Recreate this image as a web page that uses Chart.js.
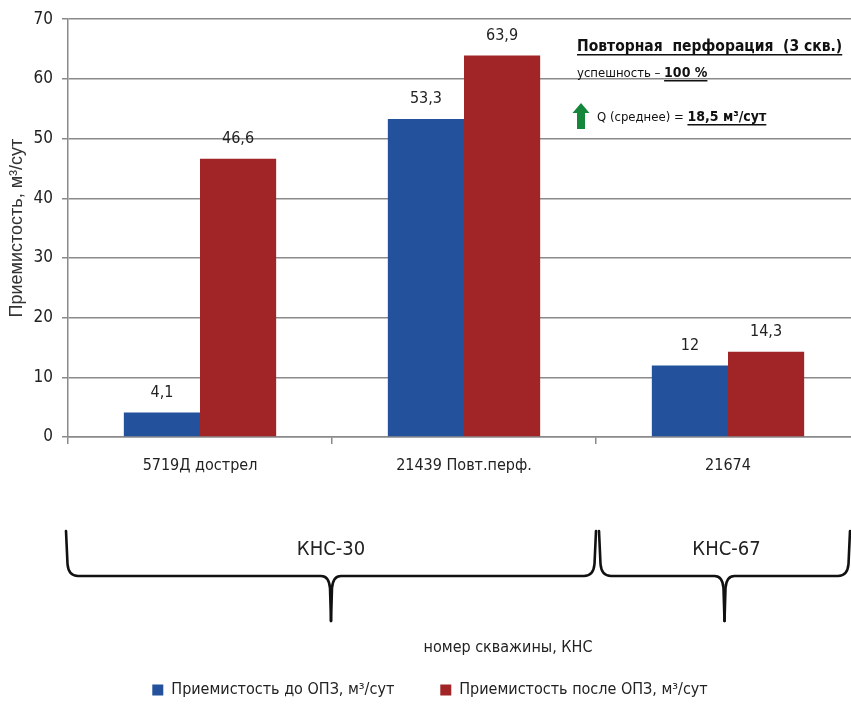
<!DOCTYPE html>
<html>
<head>
<meta charset="utf-8">
<script src="https://cdn.jsdelivr.net/npm/chart.js@4"></script>
<style>
  html, body { margin: 0; padding: 0; background: #fff; overflow: hidden; }
  #wrap { width: 860px; height: 704px; }
</style>
</head>
<body>
<div id="wrap"><canvas id="c" width="860" height="704"></canvas></div>
<script>
// Wells and injectivity before / after bottom-hole treatment (ОПЗ)
const categories = ['5719Д дострел', '21439 Повт.перф.', '21674'];
const beforeValues = [4.1, 53.3, 12];
const afterValues = [46.6, 63.9, 14.3];
const seriesNames = ['Приемистость до ОПЗ, м³/сут', 'Приемистость после ОПЗ, м³/сут'];
const yMin = 0, yMax = 70, yStep = 10;
// pumping stations (КНС) and the wells they serve (first..last category index)
const stationNames = ['КНС-30', 'КНС-67'];
const stationFirst = [0, 2];
const stationLast = [1, 2];

const NARROW = "'Liberation Sans Narrow', 'DejaVu Sans Condensed', sans-serif";
const BLUE = '#23519c';
const RED = '#a12527';
const GRID = '#8a8a8a';
const TEXT = '#222';

const fmt = v => String(v).replace('.', ',');

const valueLabels = {
  id: 'valueLabels',
  afterDatasetsDraw(chart) {
    const ctx = chart.ctx;
    ctx.save();
    ctx.font = '16px ' + NARROW;
    ctx.fillStyle = TEXT;
    ctx.textAlign = 'center';
    ctx.textBaseline = 'middle';
    chart.data.datasets.forEach((ds, i) => {
      chart.getDatasetMeta(i).data.forEach((bar, j) => {
        ctx.fillText(fmt(ds.data[j]), bar.x, bar.y - 20);
      });
    });
    ctx.restore();
  }
};

function drawBrace(ctx, x0, x1, yTop, yLine, yTip) {
  const mid = (x0 + x1) / 2;
  ctx.beginPath();
  ctx.moveTo(x0, yTop);
  ctx.lineTo(x0 + 1.5, yLine - 12);
  ctx.quadraticCurveTo(x0 + 2.5, yLine, x0 + 12, yLine);
  ctx.lineTo(mid - 10, yLine);
  ctx.quadraticCurveTo(mid - 2, yLine, mid - 1, yLine + 12);
  ctx.lineTo(mid, yTip);
  ctx.stroke();
  ctx.beginPath();
  ctx.moveTo(x1, yTop);
  ctx.lineTo(x1 - 1.5, yLine - 12);
  ctx.quadraticCurveTo(x1 - 2.5, yLine, x1 - 12, yLine);
  ctx.lineTo(mid + 10, yLine);
  ctx.quadraticCurveTo(mid + 2, yLine, mid + 1, yLine + 12);
  ctx.lineTo(mid, yTip);
  ctx.stroke();
}

function underlined(ctx, text, x, y, font) {
  ctx.font = font;
  ctx.fillText(text, x, y);
  const w = ctx.measureText(text).width;
  ctx.fillRect(x, y + 3, w, 1.5);
  return w;
}

const extras = {
  id: 'extras',
  afterDraw(chart) {
    const ctx = chart.ctx;
    const xs = chart.scales.x;
    const area = chart.chartArea;
    const visibleRight = 851;
    ctx.save();

    // station braces under the well labels
    ctx.strokeStyle = '#111';
    ctx.lineWidth = 2.6;
    ctx.lineCap = 'round';
    ctx.lineJoin = 'round';
    ctx.fillStyle = TEXT;
    ctx.font = '20px ' + NARROW;
    ctx.textAlign = 'center';
    ctx.textBaseline = 'middle';
    const half = (xs.getPixelForValue(1) - xs.getPixelForValue(0)) / 2;
    stationNames.forEach((name, k) => {
      let x0 = xs.getPixelForValue(stationFirst[k]) - half;
      let x1 = xs.getPixelForValue(stationLast[k]) + half;
      x0 = k === 0 ? area.left - 2 : x0 + 3;
      x1 = Math.min(x1, visibleRight) - (k === 0 ? 0 : 1);
      drawBrace(ctx, x0, x1, 531, 576, 621);
      ctx.fillText(name, (x0 + x1) / 2 + (k === 0 ? 0 : 2), 550);
    });

    // x-axis title
    ctx.font = '16px ' + NARROW;
    ctx.fillText('номер скважины, КНС', 508, 648);

    // summary note, top right
    ctx.textAlign = 'left';
    ctx.textBaseline = 'alphabetic';
    ctx.fillStyle = '#111';
    const heading = 'Повторная  перфорация  (3 скв.)';
    let size = 18;
    ctx.font = 'bold ' + size + 'px ' + NARROW;
    while (size > 10 && ctx.measureText(heading).width > 271) {
      size -= 0.5;
      ctx.font = 'bold ' + size + 'px ' + NARROW;
    }
    underlined(ctx, heading, 577, 51, ctx.font);
    ctx.font = '13px ' + NARROW;
    ctx.fillText('успешность – ', 577, 77);
    const w1 = ctx.measureText('успешность – ').width;
    underlined(ctx, '100 %', 577 + w1, 77, 'bold 14px ' + NARROW);

    // green up arrow
    ctx.fillStyle = '#14873a';
    ctx.beginPath();
    ctx.moveTo(581, 103);
    ctx.lineTo(589.5, 113);
    ctx.lineTo(585, 113);
    ctx.lineTo(585, 129);
    ctx.lineTo(577, 129);
    ctx.lineTo(577, 113);
    ctx.lineTo(572.5, 113);
    ctx.closePath();
    ctx.fill();

    ctx.fillStyle = '#111';
    ctx.font = '13px ' + NARROW;
    ctx.fillText('Q (среднее) = ', 597, 121);
    const w2 = ctx.measureText('Q (среднее) = ').width;
    underlined(ctx, '18,5 м³/сут', 597 + w2, 121, 'bold 14px ' + NARROW);

    ctx.restore();
  }
};

new Chart(document.getElementById('c'), {
  type: 'bar',
  data: {
    labels: categories,
    datasets: [
      { label: seriesNames[0], data: beforeValues, backgroundColor: BLUE, borderWidth: 0 },
      { label: seriesNames[1], data: afterValues, backgroundColor: RED, borderWidth: 0 }
    ]
  },
  options: {
    responsive: false,
    animation: false,
    layout: { padding: { top: 18, right: 0, bottom: -4, left: 0 } },
    datasets: { bar: { categoryPercentage: 0.577, barPercentage: 1 } },
    plugins: {
      legend: {
        position: 'bottom',
        labels: {
          boxWidth: 11, boxHeight: 11, padding: 46,
          color: TEXT,
          font: { family: NARROW, size: 16 }
        }
      },
      tooltip: { enabled: false }
    },
    scales: {
      x: {
        afterFit(s) { s.height = 199; },
        grid: { drawOnChartArea: false, drawTicks: true, tickLength: 7, color: GRID, lineWidth: 1.5 },
        border: { color: GRID, width: 1.5 },
        ticks: { color: TEXT, padding: 12, font: { family: NARROW, size: 16 } }
      },
      y: {
        min: yMin, max: yMax,
        afterFit(s) { s.width = 68; },
        ticks: { stepSize: yStep, color: TEXT, padding: 9, font: { family: NARROW, size: 17 } },
        grid: { color: GRID, lineWidth: 1.5, tickLength: 6 },
        border: { color: GRID, width: 1.5 },
        title: {
          display: true,
          text: 'Приемистость, м³/сут',
          color: '#333',
          padding: { top: 6, bottom: 0 },
          font: { family: "'Liberation Sans', Arial, sans-serif", size: 18 }
        }
      }
    }
  },
  plugins: [valueLabels, extras]
});
</script>
</body>
</html>
